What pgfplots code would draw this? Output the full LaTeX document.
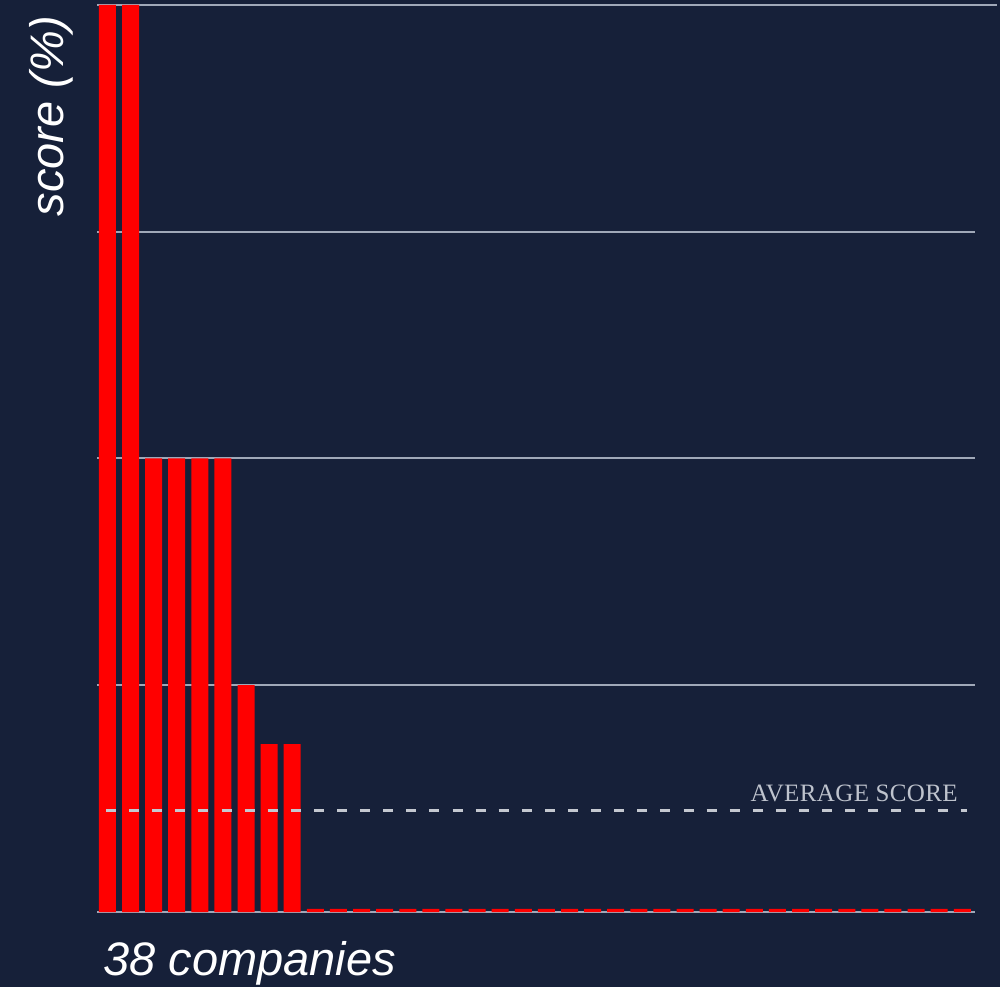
\documentclass[border=0pt]{standalone}
\usepackage{fontspec}
\setmainfont{Liberation Sans}
\newfontfamily\avgfont[LetterSpace=1.5]{Liberation Serif}
\usepackage{pgfplots}
\usepackage{pgfplotstable}
\pgfplotsset{compat=1.18}

\definecolor{bg}{RGB}{22,32,57}
\definecolor{gridc}{RGB}{160,168,184}
\definecolor{dashc}{RGB}{196,200,208}
\definecolor{lblc}{RGB}{190,195,205}
\definecolor{barred}{RGB}{255,0,0}

% one score per company, sorted; zero scores kept as a hairline bar
\pgfplotstableread{
idx score
0 100
1 100
2 50
3 50
4 50
5 50
6 25
7 18.5
8 18.5
9 0.35
10 0.35
11 0.35
12 0.35
13 0.35
14 0.35
15 0.35
16 0.35
17 0.35
18 0.35
19 0.35
20 0.35
21 0.35
22 0.35
23 0.35
24 0.35
25 0.35
26 0.35
27 0.35
28 0.35
29 0.35
30 0.35
31 0.35
32 0.35
33 0.35
34 0.35
35 0.35
36 0.35
37 0.35
}\scores

\begin{document}
\begin{tikzpicture}
\fill[bg] (0,0) rectangle (500bp,493.5bp);
\useasboundingbox (0,0) rectangle (500bp,493.5bp);
\begin{axis}[
    at={(48.5bp,37.5bp)}, anchor=south west,
    scale only axis,
    width=439bp, height=453.5bp,
    xmin=-0.45, xmax=37.55,
    ymin=0, ymax=100,
    axis line style={draw=none},
    xtick=\empty,
    ytick={25,50,75,100},
    yticklabels={},
    major tick length=0pt,
    ymajorgrids,
    grid style={gridc, line width=1bp},
    clip=false,
]
\draw[gridc, line width=1bp] (axis cs:-0.45,0) -- (axis cs:37.55,0);
\draw[gridc, line width=1bp] (axis cs:37.55,100) -- (axis cs:38.5,100);
\addplot[ybar, bar width=8.5bp, fill=barred, draw=none] table[x=idx, y=score] {\scores};
\draw[dashc, line width=1.5bp, dash pattern=on 5bp off 6.55bp]
    (axis cs:-0.06,11.2) -- (axis cs:37.2,11.2);
\node[anchor=base east, inner sep=0, text=lblc, font=\avgfont\fontsize{12.5bp}{14bp}\selectfont]
    at ([yshift=4.6bp]axis cs:36.82,11.2) {AVERAGE SCORE};
\node[anchor=base east, rotate=90, inner sep=0, text=white, font=\itshape\fontsize{23.5bp}{28bp}\selectfont]
    at ([xshift=-17bp, yshift=-5bp]rel axis cs:0,1) {score (\%)};
\node[anchor=base west, inner sep=0, text=white, font=\itshape\fontsize{23.5bp}{28bp}\selectfont]
    at ([xshift=3bp, yshift=-31.5bp]rel axis cs:0,0) {38 companies};
\end{axis}
\end{tikzpicture}
\end{document}
